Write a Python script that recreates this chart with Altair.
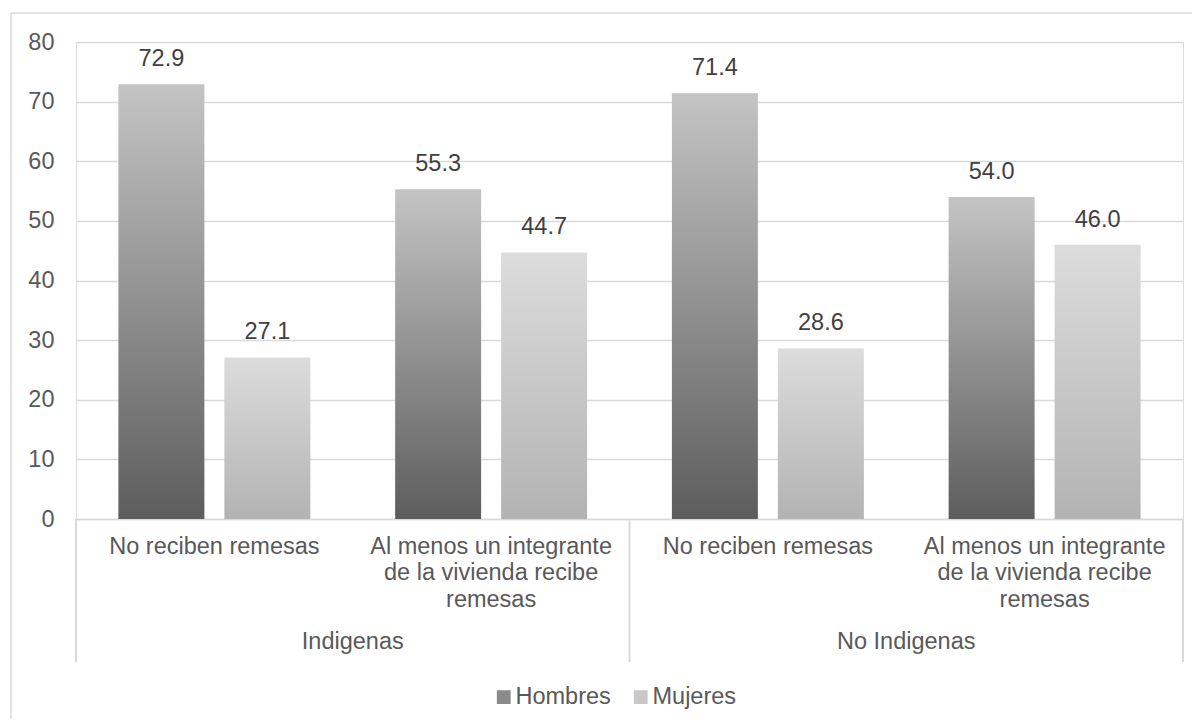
import textwrap
import altair as alt
import pandas as pd

# ---- data ----
groups = ["Indigenas", "No Indigenas"]
subcats = ["No reciben remesas", "Al menos un integrante de la vivienda recibe remesas"]
series = ["Hombres", "Mujeres"]
hombres = [72.9, 55.3, 71.4, 54.0]
mujeres = [27.1, 44.7, 28.6, 46.0]

FONT = "Liberation Sans"
FS = 23.5
W, H = 1107, 477

keys = []
for g in groups:
    for s in subcats:
        keys.append(g + "~" + "|".join(textwrap.wrap(s, 22)))

rows = []
for i, k in enumerate(keys):
    rows.append({"key": k, "serie": series[0], "valor": hombres[i], "txt": f"{hombres[i]:.1f}"})
    rows.append({"key": k, "serie": series[1], "valor": mujeres[i], "txt": f"{mujeres[i]:.1f}"})
df = pd.DataFrame(rows)

grad_h = alt.Gradient(gradient="linear", x1=0, x2=0, y1=0, y2=1,
                      stops=[alt.GradientStop(color="#c4c4c4", offset=0),
                             alt.GradientStop(color="#5d5d5d", offset=1)])
grad_m = alt.Gradient(gradient="linear", x1=0, x2=0, y1=0, y2=1,
                      stops=[alt.GradientStop(color="#dcdcdc", offset=0),
                             alt.GradientStop(color="#b3b3b3", offset=1)])

xscale = alt.Scale(domain=keys, paddingInner=0, paddingOuter=0)
xaxis = alt.Axis(title=None, ticks=False, domain=True, domainColor="#d9d9d9", domainWidth=1.5,
                 labelAngle=0, labelFont=FONT, labelFontSize=FS, labelColor="#595959",
                 labelLineHeight=26.5, labelPadding=15, labelLimit=400,
                 labelExpr="split(split(datum.value, '~')[1], '|')")
yscale = alt.Scale(domain=[0, 80], nice=False)
yaxis = alt.Axis(title=None, values=list(range(0, 81, 10)), ticks=False, domain=False,
                 grid=True, gridColor="#d9d9d9", gridWidth=1.5,
                 labelFont=FONT, labelFontSize=FS, labelColor="#595959", labelPadding=22)
xoff = alt.XOffset("serie:N", scale=alt.Scale(domain=series, paddingInner=0.1887, paddingOuter=0.4))

base = alt.Chart(df)

bars = base.mark_bar().encode(
    x=alt.X("key:N", scale=xscale, axis=xaxis, sort=keys),
    xOffset=xoff,
    y=alt.Y("valor:Q", scale=yscale, axis=yaxis),
    color=alt.condition(alt.datum.serie == "Hombres", alt.value(grad_h), alt.value(grad_m)),
)

labels = base.mark_text(font=FONT, fontSize=FS, color="#404040", baseline="alphabetic", dy=-18).encode(
    x=alt.X("key:N", sort=keys),
    xOffset=alt.XOffset("serie:N"),
    y=alt.Y("valor:Q"),
    text="txt:N",
)

gdf = pd.DataFrame({"key": [keys[1], keys[3]], "grupo": groups})
glabels = alt.Chart(gdf).mark_text(font=FONT, fontSize=FS, color="#595959", baseline="alphabetic").encode(
    x=alt.X("key:N", sort=keys, bandPosition=0),
    y=alt.value(607),
    text="grupo:N",
)

sep_left = alt.Chart(pd.DataFrame({"key": [keys[0], keys[2]]})).mark_rule(color="#d9d9d9", strokeWidth=2).encode(
    x=alt.X("key:N", sort=keys, bandPosition=0),
    y=alt.value(H), y2=alt.value(620),
)
sep_right = alt.Chart(pd.DataFrame({"key": [keys[3]]})).mark_rule(color="#d9d9d9", strokeWidth=2).encode(
    x=alt.X("key:N", sort=keys, bandPosition=1),
    y=alt.value(H), y2=alt.value(620),
)

# outer frame (left and top edges visible)
frame_l = alt.Chart(pd.DataFrame({"a": [0]})).mark_rule(color="#d9d9d9", strokeWidth=1.5).encode(
    x=alt.value(-65), y=alt.value(-29), y2=alt.value(720))
frame_t = alt.Chart(pd.DataFrame({"a": [0]})).mark_rule(color="#d9d9d9", strokeWidth=1.5).encode(
    x=alt.value(-65), x2=alt.value(1200), y=alt.value(-29))

legend_layer = alt.Chart(pd.DataFrame({"serie": series})).transform_filter("false").mark_square(opacity=1).encode(
    color=alt.Color("serie:N",
                    scale=alt.Scale(domain=series, range=["#8a8a8a", "#c8c8c8"]),
                    legend=alt.Legend(title=None, orient="none", direction="horizontal",
                                      legendX=416, legendY=643, symbolType="square", symbolSize=190,
                                      symbolStrokeWidth=0, symbolOpacity=1, labelFont=FONT, labelFontSize=FS,
                                      labelColor="#595959", labelOffset=0, columnPadding=18)),
)

chart = alt.layer(frame_l, frame_t, bars, labels, glabels, sep_left, sep_right, legend_layer).properties(
    width=W, height=H,
    autosize=alt.AutoSizeParams(type="none"),
    padding={"left": 68, "top": 34, "right": 9, "bottom": 200},
).configure_view(stroke=None).configure(background="white")

chart.save("out.html", embed_options={"renderer": "svg", "actions": False})
